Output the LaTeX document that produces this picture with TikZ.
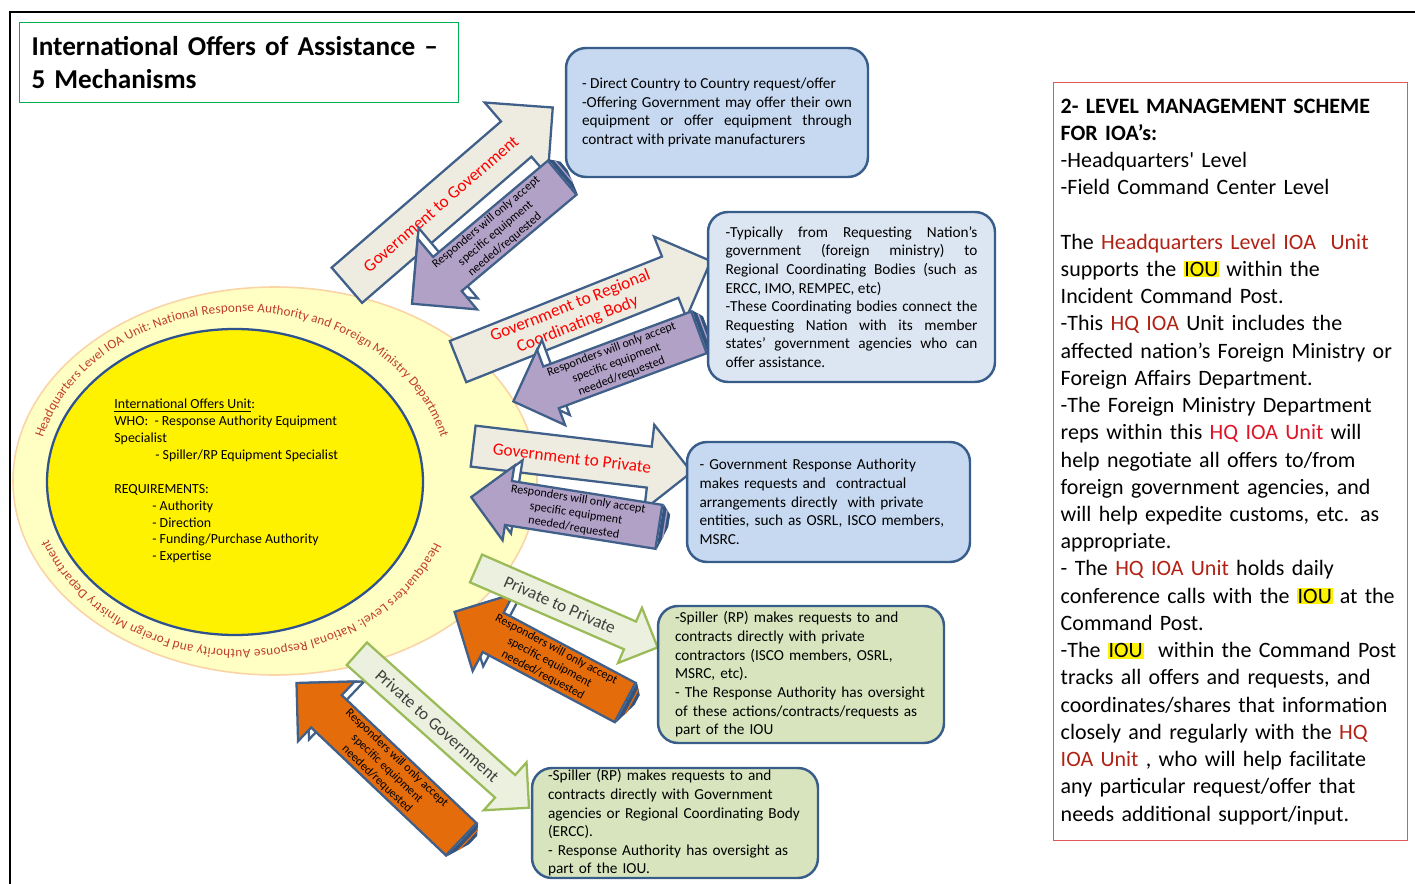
\documentclass[tikz,border=0pt]{standalone}
\usepackage{fontspec}
\setmainfont{Carlito}
\usetikzlibrary{shapes.arrows,decorations.text,calc}

\definecolor{arrowblue}{RGB}{64,96,138}
\definecolor{bandblue}{RGB}{52,84,128}
\definecolor{boxblue}{RGB}{56,93,138}
\definecolor{beige}{RGB}{238,236,225}
\definecolor{lilac}{RGB}{178,161,199}
\definecolor{carrot}{RGB}{228,108,10}
\definecolor{palegreen}{RGB}{235,241,222}
\definecolor{leafgreen}{RGB}{155,187,89}
\definecolor{slate}{RGB}{64,64,64}
\definecolor{skyfill}{RGB}{198,217,241}
\definecolor{mistfill}{RGB}{220,230,242}
\definecolor{sagefill}{RGB}{215,228,189}
\definecolor{ringfill}{RGB}{255,255,196}
\definecolor{ringedge}{RGB}{250,212,165}
\definecolor{ringred}{RGB}{192,60,45}
\definecolor{coreblue}{RGB}{47,82,143}
\definecolor{hqred}{RGB}{178,34,20}
\definecolor{hqbright}{RGB}{222,20,40}
\definecolor{titlegreen}{RGB}{0,176,80}
\definecolor{schemered}{RGB}{224,90,90}

\newcommand{\iou}{{\setlength{\fboxsep}{0.4pt}\colorbox{yellow}{IOU}}}
\newcommand{\ringfont}{\fontsize{7.5}{9}\selectfont}

\tikzset{
  arrowdims/.style n args={3}{minimum height=#1*0.02cm,
    minimum width=#3*0.02cm, single arrow head extend=(#3-#2)*0.01cm},
  offer/.style={single arrow, single arrow tip angle=90, inner sep=0pt,
    draw=arrowblue, line width=1.3pt, fill=beige, text=red, align=center,
    font=\fontsize{9.8}{11.2}\selectfont},
  reply/.style={single arrow, single arrow tip angle=90,
    shape border rotate=180, inner xsep=0pt, inner ysep=0.03cm, draw=arrowblue,
    line width=1.3pt, fill=lilac, align=center,
    font=\fontsize{6.9}{8.2}\selectfont},
  relay/.style={offer, draw=leafgreen, fill=palegreen, text=slate},
  ghost/.style={fill=white},
  tailband/.style={fill=bandblue},
  ring/.style={fill=ringfill, draw=ringedge, line width=0.9pt},
  core/.style={fill=yellow, draw=coreblue, line width=1.3pt},
  unitnote/.style={align=left, inner sep=0pt, font=\fontsize{7.9}{9.6}\selectfont},
  infobox/.style={draw=boxblue, line width=1.4pt, rounded corners=0.4cm,
    inner sep=0pt, font=\fontsize{8.7}{10.6}\selectfont},
  titlebox/.style={draw=titlegreen, line width=0.6pt, inner xsep=0.24cm,
    text width=8.3cm, minimum height=1.6cm, align=left,
    font=\fontsize{15.5}{18.7}\selectfont\bfseries},
  schemebox/.style={draw=schemered, line width=0.8pt, inner xsep=0.14cm,
    text width=6.8cm, minimum height=15.16cm, align=left,
    font=\fontsize{12.5}{15.5}\selectfont},
}

\begin{document}
\begin{tikzpicture}[x=0.02cm, y=0.02cm]
\useasboundingbox (0,0) rectangle (1415,-884);
\draw[line width=1.3pt] (10,-884) -- (10,-12) -- (1415,-12);

% title
\node[titlebox, anchor=north west] (title) at (19,-22)
  {International Offers of Assistance --\\5 Mechanisms};

% headquarters ring and the unit
\filldraw[ring] (275,-481) ellipse [x radius=262, y radius=194];
\filldraw[core] (235,-482) ellipse [x radius=188, y radius=153];
\coordinate (ringc) at (242,-482);
\path[decorate, decoration={text along path, text color=ringred,
  text align={fit to path},
  text={|\ringfont|Headquarters Level IOA Unit: National Response Authority and Foreign Ministry Department}}]
  ($(ringc)+(165:206 and 170)$) arc[start angle=165, end angle=15, x radius=206, y radius=170];
\path[decorate, decoration={text along path, text color=ringred,
  text align={fit to path},
  text={|\ringfont|Headquarters Level: National Response Authority and Foreign Ministry Department}}]
  ($(ringc)+(-21:206 and 168)$) arc[start angle=-21, end angle=-160, x radius=206, y radius=168];
\node[unitnote, anchor=north west] (unit) at (114,-399)
  {\underline{International Offers Unit}:\\
   WHO:\ \ - Response Authority Equipment\\
   Specialist\\
   \hspace*{0.82cm}- Spiller/RP Equipment Specialist\\[9.6pt]
   REQUIREMENTS:\\
   \hspace*{0.76cm}- Authority\\
   \hspace*{0.76cm}- Direction\\
   \hspace*{0.76cm}- Funding/Purchase Authority\\
   \hspace*{0.76cm}- Expertise};

% government to government
\node[offer, arrowdims={272}{45}{95}, inner ysep=0.33cm, rotate=40.8, anchor=tail] (g2g) at (346,-286)
  {Government to Government};
\node[reply, ghost, arrowdims={196}{44}{92}, rotate=40, anchor=tail] (g2g-s) at (564,-166) {};
\node[reply, arrowdims={196}{44}{92}, rotate=40, anchor=tail] (g2g-r) at (563,-177)
  {Responders will only accept\\specific equipment\\needed/requested};
\fill[tailband] (g2g-r.before tail) -- (g2g-r.after tail) -- (g2g-s.after tail) -- (g2g-s.before tail) -- cycle;
\draw[lilac, line width=0.7pt] ($(g2g-r.before tail)!.55!(g2g-s.before tail)$) -- ($(g2g-r.after tail)!.55!(g2g-s.after tail)$);

% government to regional body
\node[offer, arrowdims={272}{43}{86}, inner ysep=0.075cm, rotate=21.7, anchor=tail] (g2r) at (457,-362)
  {Government to Regional\\Coordinating Body};
\node[reply, ghost, arrowdims={198}{44}{80}, rotate=20.4, anchor=tail] (g2r-s) at (705,-322) {};
\node[reply, arrowdims={198}{44}{80}, rotate=20.4, anchor=tail] (g2r-r) at (700,-332)
  {Responders will only accept\\specific equipment\\needed/requested};
\fill[tailband] (g2r-r.before tail) -- (g2r-r.after tail) -- (g2r-s.after tail) -- (g2r-s.before tail) -- cycle;
\draw[lilac, line width=0.7pt] ($(g2r-r.before tail)!.55!(g2r-s.before tail)$) -- ($(g2r-r.after tail)!.55!(g2r-s.after tail)$);

% government to private
\node[offer, arrowdims={220}{40}{84}, inner ysep=0.27cm, rotate=-6.8, anchor=tail] (g2p) at (472,-446)
  {Government to Private};
\node[reply, ghost, arrowdims={190}{43}{74}, rotate=-9, anchor=tail] (g2p-s) at (669,-521) {};
\node[reply, arrowdims={190}{43}{74}, rotate=-9, anchor=tail] (g2p-r) at (660,-527)
  {Responders will only accept\\specific equipment\\needed/requested};
\fill[tailband] (g2p-r.before tail) -- (g2p-r.after tail) -- (g2p-s.after tail) -- (g2p-s.before tail) -- cycle;
\draw[lilac, line width=0.7pt] ($(g2p-r.before tail)!.55!(g2p-s.before tail)$) -- ($(g2p-r.after tail)!.55!(g2p-s.after tail)$);

% private to private
\node[reply, ghost, arrowdims={193}{42}{85}, rotate=-28, anchor=tail] (p2p-s) at (637,-700) {};
\node[reply, fill=carrot, arrowdims={193}{42}{85}, rotate=-28, anchor=tail] (p2p-r) at (626,-703)
  {Responders will only accept\\specific equipment\\needed/requested};
\fill[tailband] (p2p-r.before tail) -- (p2p-r.after tail) -- (p2p-s.after tail) -- (p2p-s.before tail) -- cycle;
\draw[carrot, line width=0.7pt] ($(p2p-r.before tail)!.55!(p2p-s.before tail)$) -- ($(p2p-r.after tail)!.55!(p2p-s.after tail)$);
\node[relay, arrowdims={198}{28}{58}, inner ysep=0.16cm, rotate=-23.5, anchor=tail] (p2p) at (475,-568)
  {Private to Private};

% private to government
\node[reply, ghost, arrowdims={227}{42}{80}, rotate=-43.5, anchor=tail] (p2gov-s) at (473,-840) {};
\node[reply, fill=carrot, arrowdims={227}{42}{80}, rotate=-43.5, anchor=tail] (p2gov-r) at (462,-840)
  {Responders will only accept\\specific equipment\\needed/requested};
\fill[tailband] (p2gov-r.before tail) -- (p2gov-r.after tail) -- (p2gov-s.after tail) -- (p2gov-s.before tail) -- cycle;
\draw[carrot, line width=0.7pt] ($(p2gov-r.before tail)!.55!(p2gov-s.before tail)$) -- ($(p2gov-r.after tail)!.55!(p2gov-s.after tail)$);
\node[relay, arrowdims={231}{28}{62}, inner ysep=0.16cm, rotate=-41.8, anchor=tail] (p2gov) at (356,-653)
  {Private to Government};

% mechanism notes
\node[infobox, fill=skyfill, minimum width=6.04cm, minimum height=2.58cm,
  text width=5.4cm, align=justify] (g2gnote) at (717,-112.5)
  {- Direct Country to Country request/offer\\
   -Offering Government may offer their own\linebreak
   equipment or offer equipment through\linebreak
   contract with private manufacturers};
\node[infobox, fill=mistfill, minimum width=5.74cm, minimum height=3.4cm,
  text width=5.04cm, align=justify] (g2rnote) at (851.5,-297)
  {-Typically from Requesting Nation’s\linebreak
   government (foreign ministry) to\linebreak
   Regional Coordinating Bodies (such as\linebreak
   ERCC, IMO, REMPEC, etc)\\
   -These Coordinating bodies connect the\linebreak
   Requesting Nation with its member\linebreak
   states’ government agencies who can\linebreak
   offer assistance.};
\node[infobox, fill=skyfill, minimum width=5.66cm, minimum height=2.4cm,
  text width=5.16cm, align=left] (g2pnote) at (828.5,-502)
  {- Government Response Authority\\
   makes requests and\ \ contractual\\
   arrangements directly\ \ with private\\
   entities, such as OSRL, ISCO members,\\
   MSRC.};
\node[infobox, fill=sagefill, minimum width=5.72cm, minimum height=2.74cm,
  text width=5.04cm, align=left] (p2pnote) at (801,-674.5)
  {-Spiller (RP) makes requests to and\\
   contracts directly with private\\
   contractors (ISCO members, OSRL,\\
   MSRC, etc).\\
   - The Response Authority has oversight\\
   of these actions/contracts/requests as\\
   part of the IOU};
\node[infobox, fill=sagefill, minimum width=5.72cm, minimum height=2.2cm,
  text width=5.08cm, align=left] (p2govnote) at (675,-823)
  {-Spiller (RP) makes requests to and\\
   contracts directly with Government\\
   agencies or Regional Coordinating Body\\
   (ERCC).\\
   - Response Authority has oversight as\\
   part of the IOU.};

% two level scheme
\node[schemebox, anchor=north west] (scheme) at (1053,-82)
  {\textbf{2- LEVEL MANAGEMENT SCHEME}\\
   \textbf{FOR IOA’s:}\\
   -Headquarters\textquotesingle\ Level\\
   -Field Command Center Level\\[15.5pt]
   The {\color{hqred}Headquarters Level IOA\ \ Unit}\\
   supports the \iou{} within the\\
   Incident Command Post.\\
   -This {\color{hqred}HQ IOA} Unit includes the\\
   affected nation’s Foreign Ministry or\\
   Foreign Affairs Department.\\
   -The Foreign Ministry Department\\
   reps within this {\color{hqbright}HQ IOA Unit} will\\
   help negotiate all offers to/from\\
   foreign government agencies, and\\
   will help expedite customs, etc. as\\
   appropriate.\\
   - The {\color{hqred}HQ IOA Unit} holds daily\\
   conference calls with the \iou{} at the\\
   Command Post.\\
   -The \iou\ \ within the Command Post\\
   tracks all offers and requests, and\\
   coordinates/shares that information\\
   closely and regularly with the {\color{hqred}HQ}\\
   {\color{hqred}IOA Unit} , who will help facilitate\\
   any particular request/offer that\\
   needs additional support/input.};
\end{tikzpicture}
\end{document}
